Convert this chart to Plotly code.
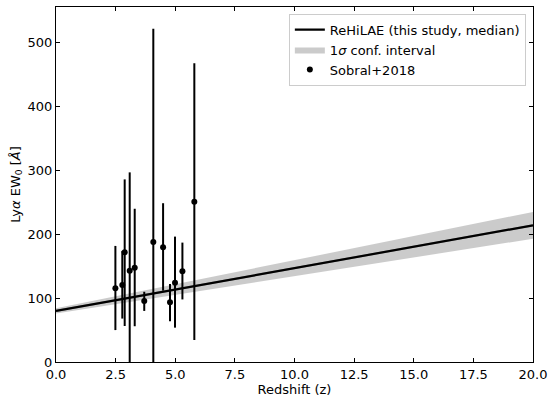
import plotly.graph_objects as go

# Model (median + 1 sigma band)
z_model = [0.0, 20.0]
ew_median = [80.0, 214.0]
ew_lower = [76.0, 193.0]
ew_upper = [84.0, 235.0]

# Sobral+2018 points
z_obs = [2.49, 2.78, 2.88, 3.09, 3.30, 3.70, 4.08, 4.49, 4.78, 4.99, 5.30, 5.80]
ew_obs = [115.5, 120.7, 172.0, 143.0, 147.8, 95.6, 188.0, 179.7, 93.5, 124.3, 142.0, 251.0]
ew_hi = [181.8, 174.0, 286.0, 297.0, 240.0, 110.0, 522.0, 248.7, 122.0, 196.4, 187.0, 468.0]
ew_lo = [50.0, 68.0, 56.4, -10.0, 56.0, 80.0, -10.0, 111.8, 64.0, 53.8, 98.0, 34.5]

err_plus = [h - v for h, v in zip(ew_hi, ew_obs)]
err_minus = [v - l for v, l in zip(ew_obs, ew_lo)]

fig = go.Figure()

fig.add_trace(go.Scatter(
    x=z_model, y=ew_median, mode="lines", line=dict(width=2.2, color="black"),
    name="ReHiLAE (this study, median)"))
fig.add_trace(go.Scatter(
    x=z_model, y=ew_lower, mode="lines", line=dict(width=0, color="rgba(0,0,0,0)"),
    showlegend=False, hoverinfo="skip"))
fig.add_trace(go.Scatter(
    x=z_model, y=ew_upper, mode="lines", line=dict(width=0, color="rgba(0,0,0,0)"),
    fill="tonexty", fillcolor="rgba(190,190,190,0.8)",
    name="1<i>σ</i> conf. interval"))
fig.add_trace(go.Scatter(
    x=z_obs, y=ew_obs, mode="markers",
    marker=dict(size=6, color="black"),
    error_y=dict(type="data", symmetric=False, array=err_plus, arrayminus=err_minus,
                 color="black", thickness=2, width=0),
    name="Sobral+2018"))
# redraw median line on top of band
fig.add_trace(go.Scatter(
    x=z_model, y=ew_median, mode="lines", line=dict(width=2.2, color="black"),
    showlegend=False, hoverinfo="skip"))

axis_common = dict(
    showline=True, linecolor="black", linewidth=1, mirror="ticks",
    ticks="inside", ticklen=4, tickcolor="black", showgrid=False, zeroline=False,
    automargin=False,
    tickfont=dict(family="DejaVu Sans", size=13, color="black"),
)

fig.update_xaxes(range=[0, 20], tickvals=[0, 2.5, 5, 7.5, 10, 12.5, 15, 17.5, 20],
                 ticktext=["0.0", "2.5", "5.0", "7.5", "10.0", "12.5", "15.0", "17.5", "20.0"],
                 title=dict(text="Redshift (z)", font=dict(family="DejaVu Sans", size=13, color="black"),
                            standoff=2),
                 **axis_common)
fig.update_yaxes(range=[0, 556], tickvals=[0, 100, 200, 300, 400, 500],
                 title=dict(text="Ly<i>α</i> EW<sub>0</sub> [<i>Å</i>]",
                            font=dict(family="DejaVu Sans", size=13, color="black"), standoff=4),
                 **axis_common)

fig.update_layout(
    width=548, height=403,
    margin=dict(l=56, r=15, t=7, b=41),
    paper_bgcolor="white", plot_bgcolor="white",
    font=dict(family="DejaVu Sans", color="black"),
    legend=dict(x=0.985, y=0.981, xanchor="right", yanchor="top",
                bgcolor="rgba(255,255,255,0.8)", bordercolor="#cccccc", borderwidth=1,
                font=dict(family="DejaVu Sans", size=13, color="black"),
                tracegroupgap=0, traceorder="normal"),
    showlegend=True,
)

fig.write_html("out.html", config={"displayModeBar": False},
               post_script="document.body.style.margin='0px';document.body.style.overflow='hidden';")
